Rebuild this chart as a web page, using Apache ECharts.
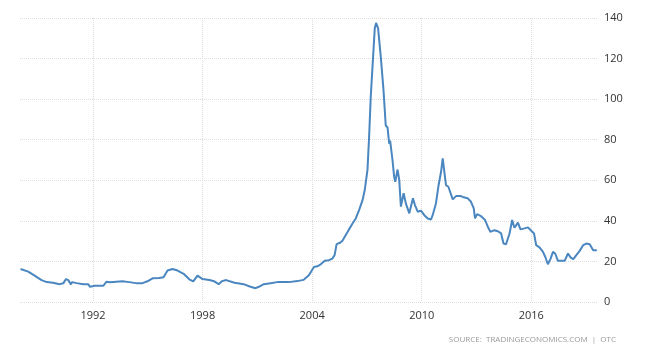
<!DOCTYPE html>
<html>
<head>
<meta charset="utf-8">
<script src="https://cdn.jsdelivr.net/npm/echarts@6/dist/echarts.min.js"></script>
<style>
  html, body { margin: 0; padding: 0; background: #fff; }
  #chart { width: 650px; height: 356px; }
</style>
</head>
<body>
<div id="chart"></div>
<script>
// time as decimal years
var years = [
  1988.03, 1988.45, 1988.8, 1989.18, 1989.46, 1989.8, 1990.17, 1990.37, 1990.52, 1990.64,
  1990.79, 1990.86, 1991.1, 1991.47, 1991.74, 1991.84, 1991.93, 1992.1, 1992.56, 1992.74,
  1992.92, 1993.28, 1993.61, 1993.98, 1994.35, 1994.71, 1994.98, 1995.26, 1995.62, 1995.86,
  1996.08, 1996.35, 1996.63, 1996.99, 1997.27, 1997.49, 1997.72, 1998.0, 1998.37, 1998.64,
  1998.88, 1999.07, 1999.29, 1999.75, 2000.25, 2000.62, 2000.9, 2001.08, 2001.35, 2001.72,
  2002.09, 2002.72, 2003.19, 2003.52, 2003.82, 2004.1, 2004.28, 2004.47, 2004.69, 2004.92,
  2005.11, 2005.23, 2005.34, 2005.53, 2005.66, 2005.84, 2006.02, 2006.21, 2006.39, 2006.57,
  2006.76, 2006.88, 2007.03, 2007.12, 2007.21, 2007.36, 2007.43, 2007.5, 2007.61, 2007.76,
  2007.91, 2008.03, 2008.13, 2008.22, 2008.27, 2008.4, 2008.49, 2008.55, 2008.68, 2008.77,
  2008.86, 2009.01, 2009.13, 2009.32, 2009.41, 2009.52, 2009.63, 2009.7, 2009.78, 2009.96,
  2010.14, 2010.33, 2010.51, 2010.6, 2010.78, 2010.91, 2011.06, 2011.15, 2011.24, 2011.33,
  2011.46, 2011.7, 2011.88, 2012.15, 2012.3, 2012.52, 2012.7, 2012.85, 2012.92, 2013.03,
  2013.25, 2013.47, 2013.62, 2013.76, 2013.98, 2014.17, 2014.35, 2014.48, 2014.62, 2014.81,
  2014.9, 2014.95, 2015.08, 2015.27, 2015.41, 2015.63, 2015.82, 2016.0, 2016.15, 2016.27,
  2016.45, 2016.64, 2016.77, 2016.91, 2017.06, 2017.19, 2017.31, 2017.46, 2017.64, 2017.83,
  2018.01, 2018.16, 2018.3, 2018.47, 2018.65, 2018.84, 2019.02, 2019.2, 2019.39, 2019.48,
  2019.59
];
var prices = [
  16.3, 15.0, 13.0, 10.8, 9.8, 9.5, 8.8, 9.2, 11.3, 10.8,
  8.7, 9.8, 9.3, 8.8, 8.7, 7.5, 8.3, 8.0, 8.0, 10.0,
  9.7, 10.0, 10.2, 9.8, 9.3, 9.3, 10.2, 11.7, 11.8, 12.2,
  15.5, 16.3, 15.5, 13.7, 11.2, 10.2, 13.0, 11.3, 10.8, 10.2,
  8.8, 10.3, 10.8, 9.5, 8.8, 7.5, 6.8, 7.5, 8.8, 9.2,
  9.8, 9.8, 10.3, 10.9, 13.2, 17.3, 17.6, 18.6, 20.3, 20.6,
  21.4, 23.1, 28.5, 29.2, 30.2, 33.0, 35.8, 38.7, 41.2, 45.3,
  50.2, 55.2, 65.1, 81.6, 101.3, 124.4, 135.0, 137.6, 135.0, 120.7,
  104.2, 87.0, 86.0, 78.0, 79.5, 70.0, 61.8, 59.3, 65.3, 60.1,
  47.0, 53.6, 48.6, 43.7, 44.5, 51.1, 47.8, 47.8, 44.5, 45.0,
  42.8, 41.2, 40.7, 42.8, 48.6, 56.8, 64.2, 70.8, 64.2, 57.6,
  56.8, 50.6, 52.2, 52.2, 51.6, 51.1, 49.4, 46.1, 41.2, 43.3,
  42.3, 40.4, 37.1, 34.6, 35.4, 34.9, 33.8, 28.8, 28.5, 33.8,
  37.9, 40.4, 36.6, 39.1, 35.8, 36.3, 36.8, 35.1, 33.8, 28.0,
  26.9, 24.7, 22.2, 18.6, 21.4, 24.7, 23.9, 20.3, 20.3, 20.3,
  23.9, 21.9, 21.1, 23.1, 25.2, 28.0, 28.8, 28.5, 25.5, 24.7,
  25.5
];
var yearTicks = [1992, 1998, 2004, 2010, 2016];

var chart = echarts.init(document.getElementById('chart'));
chart.setOption({
  animation: false,
  grid: {
    left: 20,
    right: 53,
    top: 18,
    bottom: 54
  },
  xAxis: {
    type: 'value',
    min: 1988,
    max: 2019.6,
    axisLine: { show: false },
    axisTick: { show: false, customValues: yearTicks },
    axisLabel: {
      customValues: yearTicks,
      formatter: function (v) { return String(v); },
      color: '#333',
      fontSize: 11,
      margin: 8,
      fontFamily: 'Open Sans'
    },
    splitLine: {
      show: true,
      lineStyle: { color: '#ddd', type: 'dotted', width: 1 }
    }
  },
  yAxis: {
    type: 'value',
    position: 'right',
    min: 0,
    max: 140,
    interval: 20,
    axisLine: { show: false },
    axisTick: { show: false },
    axisLabel: {
      color: '#333',
      fontSize: 11,
      margin: 7,
      fontFamily: 'Open Sans'
    },
    splitLine: {
      lineStyle: { color: '#ddd', type: 'dotted', width: 1 }
    }
  },
  graphic: [{
    type: 'text',
    right: 34,
    top: 336,
    style: {
      text: 'SOURCE:  TRADINGECONOMICS.COM  |  OTC',
      fill: '#999',
      fontSize: 8,
      fontFamily: 'Open Sans'
    }
  }],
  series: [{
    type: 'line',
    data: years.map(function (y, i) { return [y, prices[i]]; }),
    showSymbol: false,
    lineStyle: { color: '#4a86bf', width: 2 },
    itemStyle: { color: '#4a86bf' }
  }]
});
</script>
</body>
</html>
